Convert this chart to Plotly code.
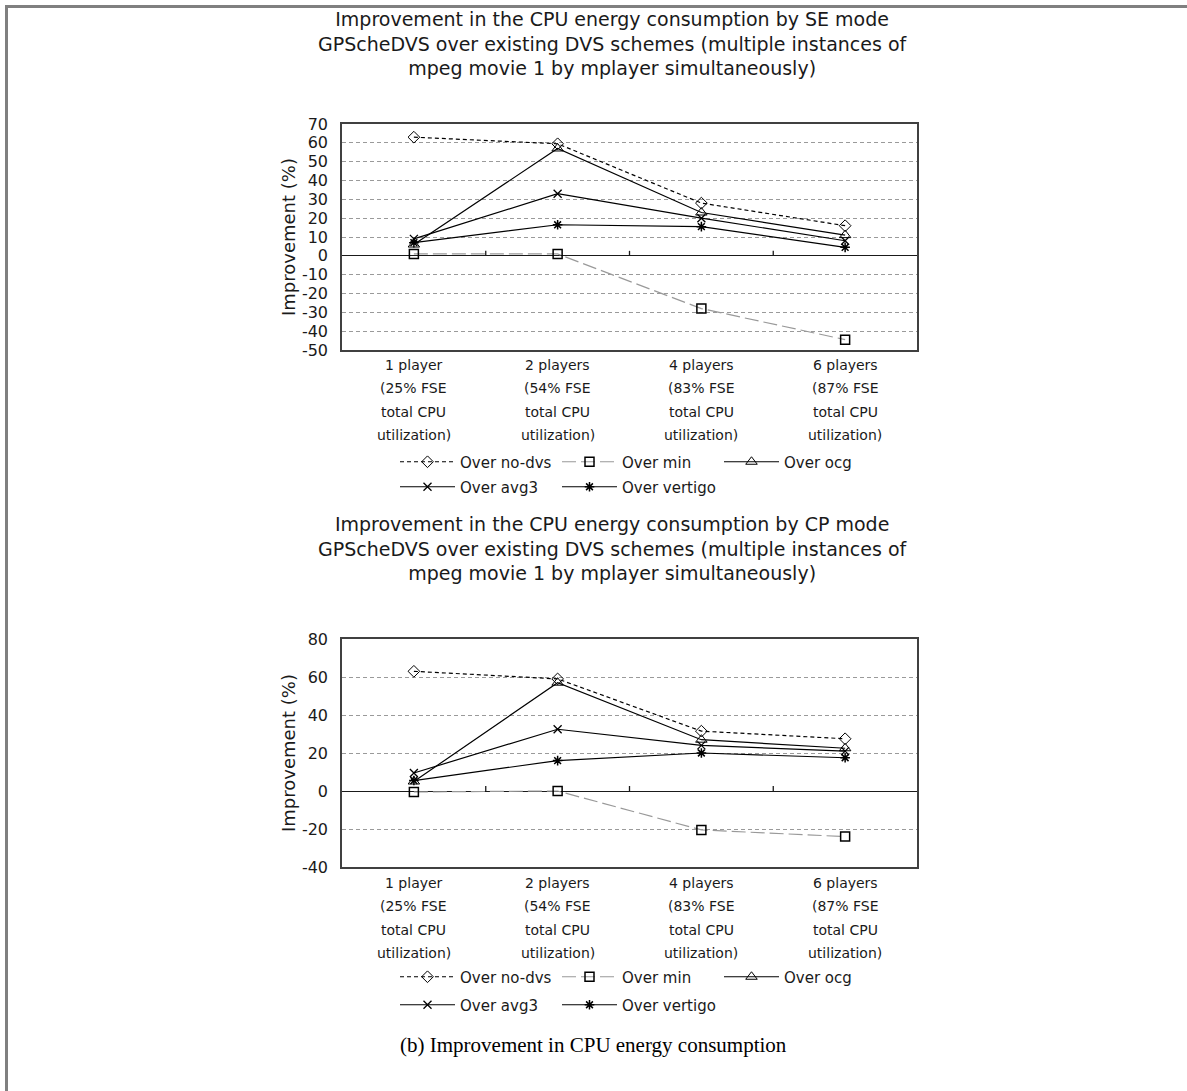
import plotly.graph_objects as go

# Category labels (x axis), one entry per line of each label
categories = [
    ["1 player", "(25% FSE", "total CPU", "utilization)"],
    ["2 players", "(54% FSE", "total CPU", "utilization)"],
    ["4 players", "(83% FSE", "total CPU", "utilization)"],
    ["6 players", "(87% FSE", "total CPU", "utilization)"],
]
series_names = ["Over no-dvs", "Over min", "Over ocg", "Over avg3", "Over vertigo"]

# SE mode improvement (%)
se_no_dvs = [63, 59.5, 28, 16]
se_min = [1, 1, -28, -44.5]
se_ocg = [6, 57, 23, 11]
se_avg3 = [9, 33, 20, 8]
se_vertigo = [7, 16.5, 15.5, 4.5]

# CP mode improvement (%)
cp_no_dvs = [63, 59, 31.5, 27.5]
cp_min = [-0.5, 0, -20.5, -24]
cp_ocg = [5, 57, 27, 22.5]
cp_avg3 = [9.5, 32.5, 24, 21]
cp_vertigo = [5.5, 16, 20, 17.5]

se_ticks = list(range(-50, 71, 10))
cp_ticks = list(range(-40, 81, 20))

W, H = 1187, 1091
FONT = "DejaVu Sans, Verdana, sans-serif"
TXT = "#1a1a1a"

styles = [
    dict(line=dict(color="#000000", width=1.2, dash="4px,3px"),
         marker=dict(symbol="diamond-open", size=9, color="#000000", line=dict(width=1))),
    dict(line=dict(color="#999999", width=1.2, dash="14px,5px"),
         marker=dict(symbol="square-open", size=9, color="#000000", line=dict(width=1.5))),
    dict(line=dict(color="#000000", width=1.2),
         marker=dict(symbol="triangle-up-open", size=10, color="#000000", line=dict(width=1))),
    dict(line=dict(color="#000000", width=1.2),
         marker=dict(symbol="x-thin", size=8, color="#000000", line=dict(width=1.3, color="#000000"))),
    dict(line=dict(color="#000000", width=1.2),
         marker=dict(symbol="asterisk", size=8, color="#000000", line=dict(width=1.5, color="#000000"))),
]

fig = go.Figure()
xs = list(range(len(categories)))

panels = [
    ("x", "y", [se_no_dvs, se_min, se_ocg, se_avg3, se_vertigo], ("legend", "legend2")),
    ("x2", "y2", [cp_no_dvs, cp_min, cp_ocg, cp_avg3, cp_vertigo], ("legend3", "legend4")),
]
for xa, ya, data, legs in panels:
    for i, (name, vals) in enumerate(zip(series_names, data)):
        fig.add_trace(go.Scatter(
            x=xs, y=vals, name=name, mode="lines+markers",
            xaxis=xa, yaxis=ya,
            legend=legs[0] if i < 3 else legs[1],
            line=styles[i]["line"], marker=styles[i]["marker"],
        ))


def px_x(v):
    return v / W


def px_y(v):
    return 1 - v / H


xdom = [px_x(342), px_x(917)]
axis_common = dict(showline=True, linecolor="#404040", linewidth=1.5, mirror=True,
                   automargin=False)
xaxis_common = dict(
    range=[-0.5, 3.5], tickmode="array", tickvals=xs, showticklabels=False,
    showgrid=False, zeroline=False, ticks="",
    **axis_common,
)
yaxis_common = dict(
    showgrid=True, gridcolor="#9a9a9a", griddash="4px,3px", gridwidth=1,
    zeroline=True, zerolinecolor="#1a1a1a", zerolinewidth=1.3,
    ticks="", tickfont=dict(family=FONT, size=16, color=TXT), ticklabelstandoff=9,
    title=dict(text="Improvement (%)", font=dict(family=FONT, size=18, color=TXT), standoff=2),
    **axis_common,
)

fig.update_layout(
    width=W, height=H,
    margin=dict(l=0, r=0, t=0, b=0, pad=0, autoexpand=False),
    paper_bgcolor="white", plot_bgcolor="white",
    font=dict(family=FONT, color=TXT),
    xaxis=dict(domain=xdom, anchor="y", **xaxis_common),
    yaxis=dict(domain=[px_y(350), px_y(124)], anchor="x", range=[-50, 70],
               tickmode="array", tickvals=se_ticks, ticktext=[str(v) for v in se_ticks],
               **yaxis_common),
    xaxis2=dict(domain=xdom, anchor="y2", **xaxis_common),
    yaxis2=dict(domain=[px_y(867), px_y(639)], anchor="x2", range=[-40, 80],
                tickmode="array", tickvals=cp_ticks, ticktext=[str(v) for v in cp_ticks],
                **yaxis_common),
)

legend_common = dict(
    orientation="h", xanchor="left", yanchor="middle",
    entrywidth=92, entrywidthmode="pixels", itemwidth=55,
    font=dict(family=FONT, size=15, color=TXT),
    bgcolor="rgba(0,0,0,0)", borderwidth=0, tracegroupgap=0,
    itemclick=False, itemdoubleclick=False,
)
fig.update_layout(
    legend=dict(x=px_x(395), y=px_y(462), **legend_common),
    legend2=dict(x=px_x(395), y=px_y(487), **legend_common),
    legend3=dict(x=px_x(395), y=px_y(977), **legend_common),
    legend4=dict(x=px_x(395), y=px_y(1005), **legend_common),
)

# Short tick marks on the zero line between categories
shapes = []
for xa, ya in [("x", "y"), ("x2", "y2")]:
    for b in [0.5, 1.5, 2.5]:
        shapes.append(dict(type="line", xref=xa, yref=ya, x0=b, x1=b,
                           ysizemode="pixel", yanchor=0, y0=0, y1=5,
                           line=dict(color="#1a1a1a", width=1.3)))

# Outer frame (top and left edges)
shapes.append(dict(type="line", xref="paper", yref="paper",
                   x0=px_x(5), x1=1.0, y0=px_y(6.5), y1=px_y(6.5),
                   line=dict(color="#808080", width=3)))
shapes.append(dict(type="line", xref="paper", yref="paper",
                   x0=px_x(6.5), x1=px_x(6.5), y0=0, y1=px_y(5),
                   line=dict(color="#808080", width=3)))
fig.update_layout(shapes=shapes)

title_se = ("Improvement in the CPU energy consumption by SE mode<br>"
            "GPScheDVS over existing DVS schemes (multiple instances of<br>"
            "mpeg movie 1 by mplayer simultaneously)")
title_cp = ("Improvement in the CPU energy consumption by CP mode<br>"
            "GPScheDVS over existing DVS schemes (multiple instances of<br>"
            "mpeg movie 1 by mplayer simultaneously)")

annotations = [
    dict(text=title_se, xref="paper", yref="paper", x=px_x(613), y=px_y(44),
         xanchor="center", yanchor="middle", showarrow=False,
         font=dict(family=FONT, size=19, color=TXT)),
    dict(text=title_cp, xref="paper", yref="paper", x=px_x(613), y=px_y(548),
         xanchor="center", yanchor="middle", showarrow=False,
         font=dict(family=FONT, size=19, color=TXT)),
    dict(text="(b) Improvement in CPU energy consumption", xref="paper", yref="paper",
         x=px_x(594), y=px_y(1045), xanchor="center", yanchor="middle", showarrow=False,
         font=dict(family="Liberation Serif, Times New Roman, serif", size=21, color="#000000")),
]

# Category labels below each plot, one line per annotation for wider line spacing
for xa, first_line in [("x", 365), ("x2", 883)]:
    for i, lines in enumerate(categories):
        for j, txt in enumerate(lines):
            annotations.append(dict(
                text=txt, xref=xa, yref="paper", x=xs[i], y=px_y(first_line + 23.3 * j),
                xanchor="center", yanchor="middle", showarrow=False,
                font=dict(family=FONT, size=14, color=TXT)))
fig.update_layout(annotations=annotations)

fig.write_html("out.html")
